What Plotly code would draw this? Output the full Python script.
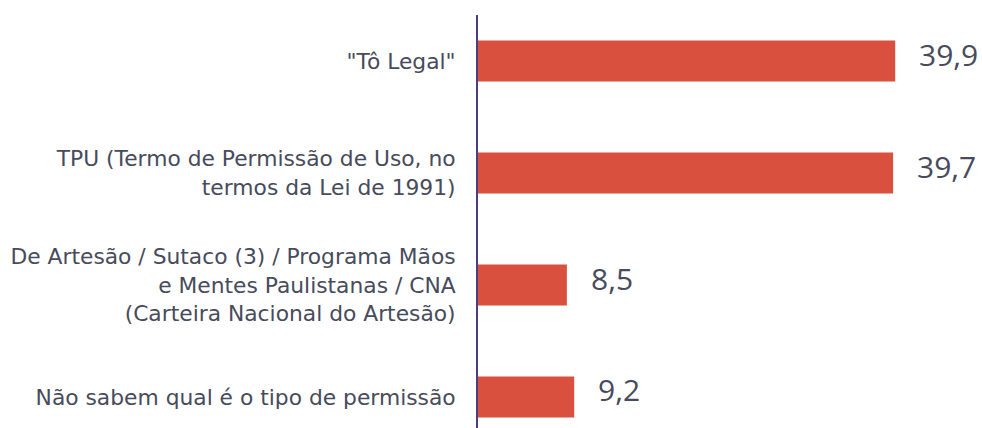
import plotly.graph_objects as go

categories = [
    '"Tô Legal"',
    'TPU (Termo de Permissão de Uso, no<br>termos da Lei de 1991)',
    'De Artesão / Sutaco (3) / Programa Mãos<br>e Mentes Paulistanas / CNA<br>(Carteira Nacional do Artesão)',
    'Não sabem qual é o tipo de permissão',
]
values = [39.9, 39.7, 8.5, 9.2]
value_labels = ["39,9", "39,7", "8,5", "9,2"]

positions = list(range(len(categories)))

BAR_COLOR = "#d9503e"
TEXT_COLOR = "#474b5b"
AXIS_COLOR = "#4d3f7d"

fig = go.Figure()
fig.add_trace(go.Bar(
    x=values,
    y=positions,
    orientation="h",
    marker=dict(color=BAR_COLOR, line=dict(width=0)),
    width=0.366,
    hoverinfo="skip",
))

for p, v, lab in zip(positions, values, value_labels):
    fig.add_annotation(
        x=v, y=p, text=lab, showarrow=False,
        xanchor="left", yanchor="middle", xshift=22, yshift=7,
        font=dict(family="Open Sans", size=30, color=TEXT_COLOR),
    )

fig.update_layout(
    width=982, height=428,
    margin=dict(l=478, r=0, t=15, b=0),
    paper_bgcolor="white", plot_bgcolor="white",
    showlegend=False,
    font=dict(family="Open Sans", color=TEXT_COLOR),
)
fig.update_xaxes(
    range=[0, 48.2], visible=False, showgrid=False, zeroline=False,
)
fig.update_yaxes(
    tickvals=positions, ticktext=categories,
    range=[3.277, -0.411],
    showline=True, linecolor=AXIS_COLOR, linewidth=2,
    showgrid=False, zeroline=False, ticks="",
    ticklabelstandoff=16,
    tickfont=dict(family="DejaVu Sans", size=21.8, color=TEXT_COLOR),
)

fig.write_html(
    "out.html",
    config={"displayModeBar": False},
    post_script="document.body.style.margin='0';document.body.style.overflow='hidden';",
)
